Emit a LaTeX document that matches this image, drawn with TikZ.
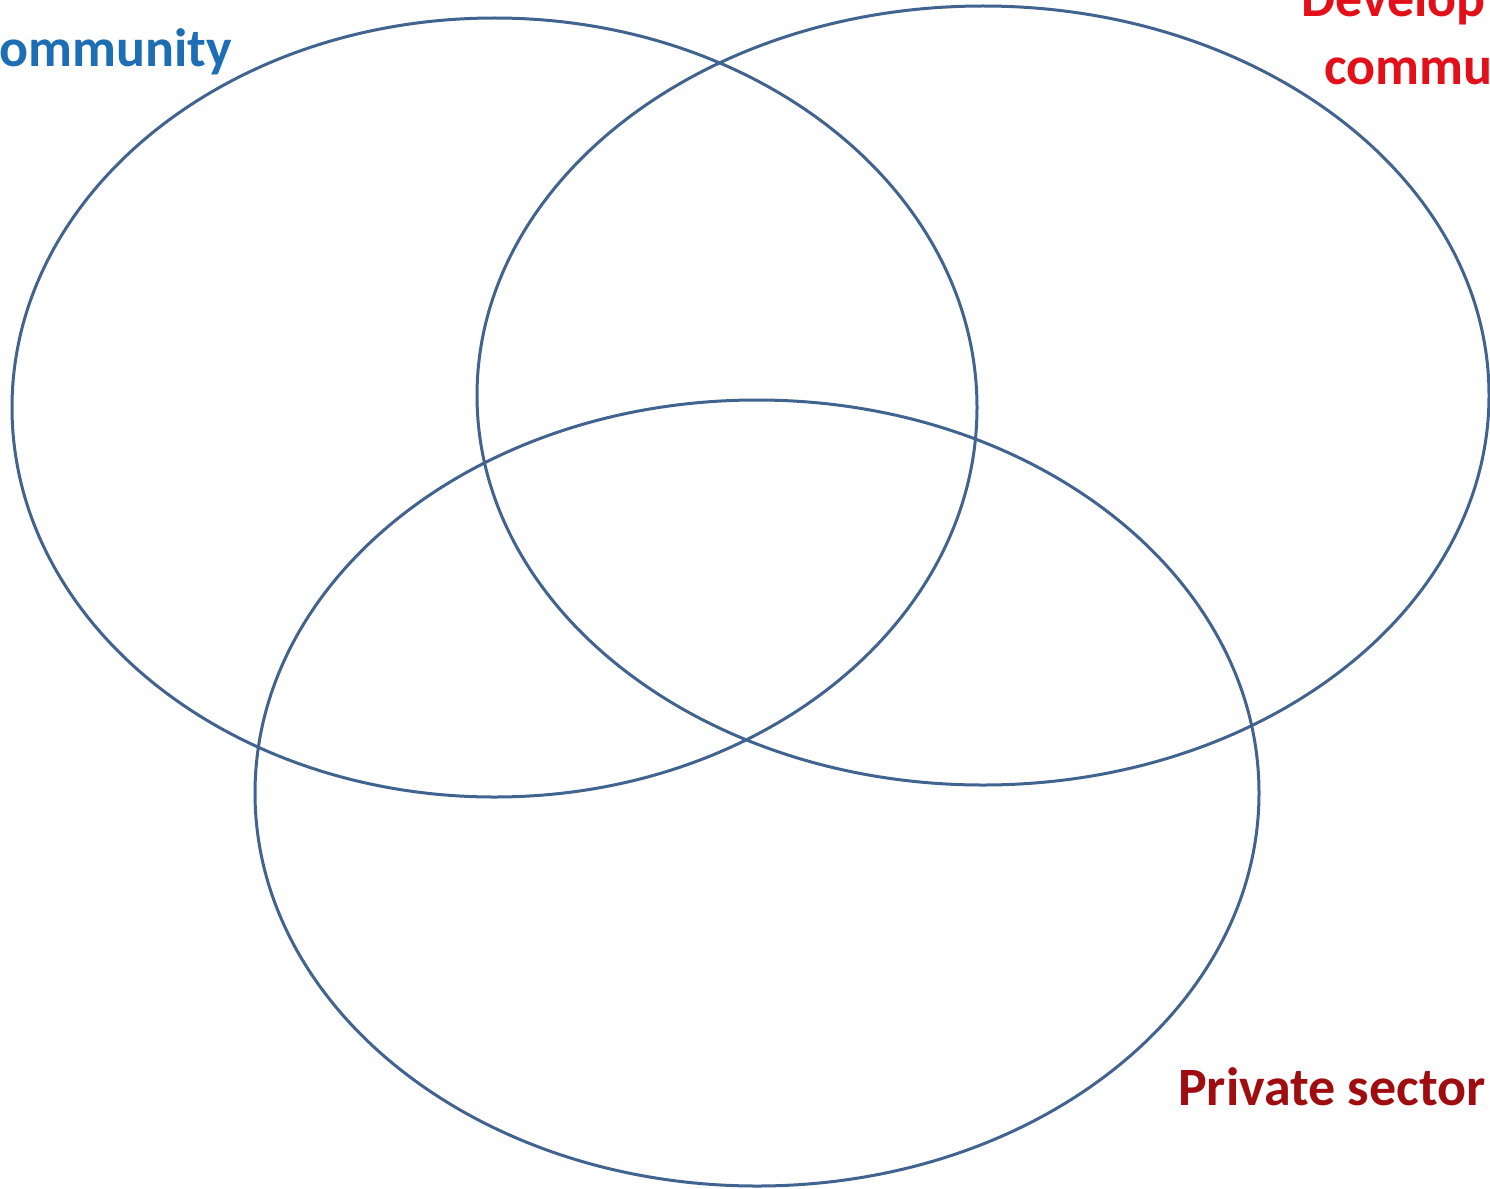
\documentclass[tikz,border=0pt]{standalone}
\usepackage{fontspec}
\setmainfont{Carlito}
\definecolor{ringblue}{HTML}{41638F}
\definecolor{txtblue}{HTML}{1E6EB5}
\definecolor{txtred}{HTML}{E3101A}
\definecolor{txtdark}{HTML}{A00D10}
\begin{document}
\begin{tikzpicture}[x=1pt,y=-1pt,
  ring/.style={draw=ringblue,line width=3pt},
  lbl/.style={anchor=base west,inner sep=0pt,font=\fontsize{54}{60}\selectfont\bfseries}]
\useasboundingbox (0,0) rectangle (1490,1188);
\clip (0,0) rectangle (1490,1188);
\fill[white] (0,0) rectangle (1490,1188);
\draw[ring] (494.5,407.5) ellipse [x radius=482.5, y radius=389.5];
\draw[ring] (983,395.5) ellipse [x radius=506, y radius=389.5];
\draw[ring] (757,793) ellipse [x radius=502, y radius=393];
\node[lbl,text=txtblue] (sci) at (-1,67) {ommunity};
\node[lbl,text=txtred] (dev1) at (1301,17) {Develop};
\node[lbl,text=txtred] (dev2) at (1324,85) {commu};
\node[lbl,text=txtdark] (priv) at (1178,1105) {Private sector};
\end{tikzpicture}
\end{document}
